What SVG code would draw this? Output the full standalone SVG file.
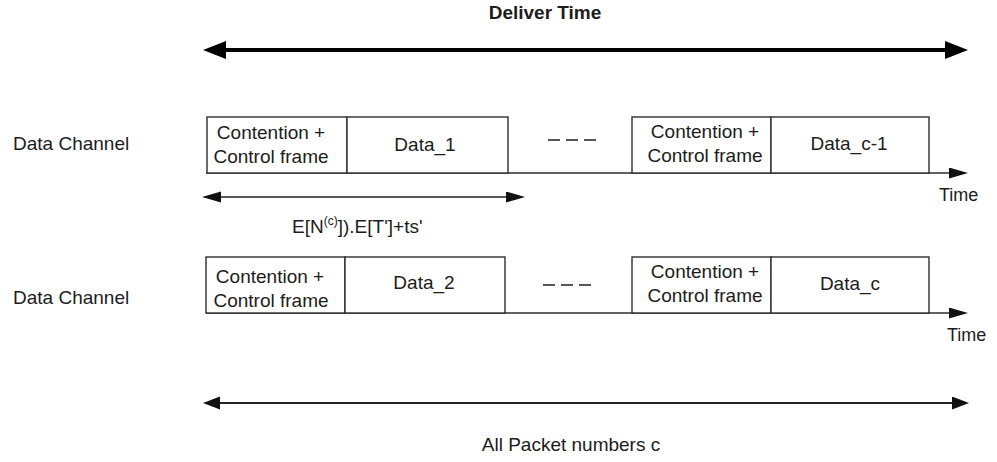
<svg xmlns="http://www.w3.org/2000/svg" width="997" height="462" viewBox="0 0 997 462">
  <defs>
    <style>
      text { font-family: "Liberation Sans", Arial, sans-serif; fill: #1c1c1c; }
      .lbl { font-size: 19px; }
      .mid { text-anchor: middle; }
      .title { font-size: 19px; font-weight: bold; }
      .time { font-size: 18px; }
      .frame { fill: #ffffff; stroke: #2e2e2e; stroke-width: 1.4; }
      .axis { fill: none; stroke: #2e2e2e; stroke-width: 1.4; }
      .dash { fill: none; stroke: #222; stroke-width: 1.6; stroke-dasharray: 12 6; }
      .span-big { fill: none; stroke: #000; stroke-width: 4; }
      .span-mid { fill: none; stroke: #222; stroke-width: 2.2; }
      .span-small { fill: none; stroke: #222; stroke-width: 1.6; }
    </style>
    <marker id="headBig" markerUnits="userSpaceOnUse" markerWidth="24" markerHeight="20" refX="10" refY="9" orient="auto-start-reverse">
      <path d="M0,0 L23,9 L0,18 z" fill="#000"/>
    </marker>
    <marker id="headMid" markerUnits="userSpaceOnUse" markerWidth="18" markerHeight="14" refX="8" refY="6.5" orient="auto-start-reverse">
      <path d="M0,0 L17,6.5 L0,13 z" fill="#111"/>
    </marker>
    <marker id="headSmall" markerUnits="userSpaceOnUse" markerWidth="20" markerHeight="12" refX="8" refY="5.5" orient="auto-start-reverse">
      <path d="M0,0 L19,5.5 L0,11 z" fill="#111"/>
    </marker>
  </defs>

  <rect width="997" height="462" fill="#ffffff"/>

  <!-- channel labels -->
  <g id="label-channel-1"><text class="lbl" x="13" y="150">Data Channel</text></g>
  <g id="label-channel-2"><text class="lbl" x="13" y="304">Data Channel</text></g>

  <!-- connectors: time axes and span arrows -->
  <g id="connectors">
    <line class="span-big" x1="216" y1="50" x2="955" y2="50" marker-start="url(#headBig)" marker-end="url(#headBig)"/>
    <line class="axis" x1="206" y1="173" x2="957" y2="173" marker-end="url(#headSmall)"/>
    <line class="span-small" x1="213" y1="197" x2="514" y2="197" marker-start="url(#headSmall)" marker-end="url(#headSmall)"/>
    <line class="axis" x1="206" y1="313" x2="957" y2="313" marker-end="url(#headSmall)"/>
    <line class="span-mid" x1="212" y1="403" x2="960" y2="403" marker-start="url(#headMid)" marker-end="url(#headMid)"/>
    <line class="dash" x1="548" y1="140" x2="602" y2="140"/>
    <line class="dash" x1="543" y1="285" x2="597" y2="285"/>
  </g>

  <!-- row 1 frames -->
  <g id="ctrl-1">
    <rect class="frame" x="207" y="117" width="140" height="56"/>
    <text class="lbl mid" x="271" y="139">Contention +</text>
    <text class="lbl mid" x="271" y="163">Control frame</text>
  </g>
  <g id="data-1">
    <rect class="frame" x="347" y="117" width="161" height="56"/>
    <text class="lbl mid" x="425" y="151">Data_1</text>
  </g>
  <g id="ctrl-c-1">
    <rect class="frame" x="632" y="117" width="139" height="56"/>
    <text class="lbl mid" x="705" y="138">Contention +</text>
    <text class="lbl mid" x="705" y="162">Control frame</text>
  </g>
  <g id="data-c-1">
    <rect class="frame" x="771" y="117" width="158" height="56"/>
    <text class="lbl mid" x="849" y="150">Data_c-1</text>
  </g>

  <!-- row 2 frames -->
  <g id="ctrl-2">
    <rect class="frame" x="206" y="257" width="139" height="56"/>
    <text class="lbl mid" x="270" y="283">Contention +</text>
    <text class="lbl mid" x="271" y="307">Control frame</text>
  </g>
  <g id="data-2">
    <rect class="frame" x="345" y="257" width="160" height="56"/>
    <text class="lbl mid" x="424" y="289">Data_2</text>
  </g>
  <g id="ctrl-c">
    <rect class="frame" x="632" y="257" width="139" height="56"/>
    <text class="lbl mid" x="705" y="278">Contention +</text>
    <text class="lbl mid" x="705" y="302">Control frame</text>
  </g>
  <g id="data-c">
    <rect class="frame" x="771" y="257" width="158" height="56"/>
    <text class="lbl mid" x="850" y="290">Data_c</text>
  </g>

  <!-- annotations -->
  <g id="label-deliver"><text class="title mid" x="545" y="19">Deliver Time</text></g>
  <g id="label-time-1"><text class="time" x="939" y="201">Time</text></g>
  <g id="label-time-2"><text class="time" x="947" y="341">Time</text></g>
  <g id="label-expect">
    <text class="lbl" x="292" y="233">E[N<tspan font-size="12" dy="-8">(c)</tspan><tspan dy="8">]).E[T']+ts'</tspan></text>
  </g>
  <g id="label-packets"><text class="lbl mid" x="571" y="451">All Packet numbers c</text></g>
</svg>
